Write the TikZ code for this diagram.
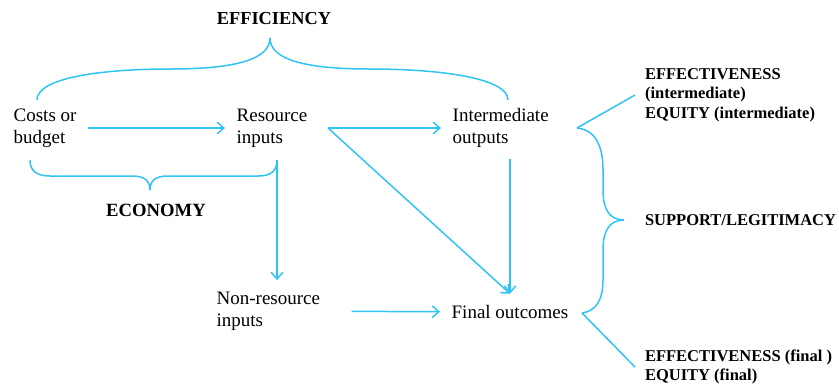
\documentclass[tikz,border=0pt]{standalone}
\usepackage{fontspec}
\setmainfont{Liberation Serif}
\usetikzlibrary{arrows.meta}
\definecolor{linkblue}{RGB}{50,195,245}
\tikzset{
  link/.style={draw=linkblue, line width=0.9pt},
  arrow/.style={link, -{Straight Barb[length=4pt,width=7pt]}},
  stage/.style={align=left, inner sep=0pt, outer sep=7pt, font=\fontsize{11.4}{13.2}\selectfont},
  label/.style={align=left, inner sep=0pt, outer sep=6pt, font=\fontsize{9.9}{11.6}\selectfont\bfseries},
}
\begin{document}
\begin{tikzpicture}[x=0.6pt, y=-0.6pt]
        \useasboundingbox (0, 0) rectangle (839, 386);
        % stages (west anchors sit 12 px left of the text, outer sep)
        \node[stage, anchor=west] (costs) at (2, 128) {Costs or\\budget};
        \node[stage, anchor=west] (resource) at (225, 128) {Resource\\inputs};
        \node[stage, anchor=west] (intermediate) at (441, 128) {Intermediate\\outputs};
        \node[stage, anchor=west] (nonres) at (205, 311) {Non-resource\\inputs};
        \node[stage, anchor=west] (final) at (440, 312) {Final outcomes};
        % criteria
        \node[label, font=\fontsize{11}{12}\selectfont\bfseries] (efficiency) at (274, 19) {EFFICIENCY};
        \node[label, font=\fontsize{11.2}{12}\selectfont\bfseries] (economy) at (156, 210) {ECONOMY};
        \node[label, anchor=west] (effint) at (635, 95) {EFFECTIVENESS\\(intermediate)\\EQUITY (intermediate)};
        \node[label, anchor=west] (support) at (635, 220) {SUPPORT/LEGITIMACY};
        \node[label, anchor=west] (efffin) at (635, 367) {EFFECTIVENESS (final )\\EQUITY (final)};
        \coordinate (fork) at (328, 128);
        \coordinate (econR) at (277, 160);
        \coordinate (bt) at (577, 128);
        \coordinate (bb) at (582, 313);
        % arrows
        \draw[arrow] (costs) -- (resource);
        \draw[arrow] (fork) -- (intermediate.west);
        \draw[arrow] (fork) -- (final.north);
        \draw[arrow] (final.north |- intermediate.south) -- (final.north);
        \draw[arrow] (econR) -- (econR |- nonres.north);
        \draw[arrow, shorten <=12pt] (nonres) -- (final);
        % braces
        \draw[link] (37, 100) .. controls (37, 78) and (100, 69) .. (170, 69)
            .. controls (240, 69) and (270, 58) .. (270, 38)
            .. controls (270, 58) and (300, 69) .. (370, 69)
            .. controls (440, 69) and (508, 78) .. (508, 100);
        \draw[link] (30, 160) .. controls (30, 171) and (37, 176) .. (50, 176) -- (132, 176)
            .. controls (145, 176) and (150, 181) .. (150, 190)
            .. controls (150, 181) and (155, 176) .. (168, 176) -- (258, 176)
            .. controls (271, 176) and (277, 171) .. (econR);
        \draw[link] (bt) .. controls (595, 130) and (603, 145) .. (603, 170) -- (603, 190)
            .. controls (603, 210) and (610, 220) .. (624, 220)
            .. controls (610, 220) and (603, 230) .. (603, 250) -- (603, 280)
            .. controls (603, 300) and (596, 311) .. (bb);
        \draw[link] (bt) -- (effint.west);
        \draw[link] (bb) -- (efffin.west);
    \end{tikzpicture}
\end{document}
